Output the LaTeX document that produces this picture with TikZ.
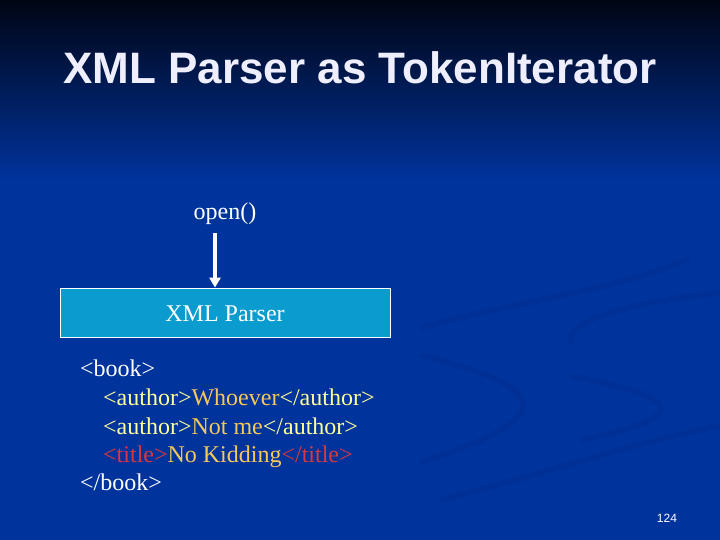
\documentclass[tikz,border=0pt]{standalone}
\usepackage{fontspec}
\setmainfont{Liberation Serif}
\setsansfont{Liberation Sans}
\usetikzlibrary{arrows.meta,positioning}
\definecolor{slidetop}{HTML}{000514}
\definecolor{slideblue}{HTML}{00339C}
\definecolor{swirl}{HTML}{022C86}
\definecolor{parsebox}{HTML}{0A9CCF}
\definecolor{tagyel}{HTML}{FFFF99}
\definecolor{txtgold}{HTML}{F5C85A}
\definecolor{tagred}{HTML}{D8383C}
\definecolor{titleink}{HTML}{EEEEFF}
\tikzset{
  ttl/.style={font=\sffamily\bfseries\fontsize{44}{50}\selectfont, text=titleink, inner sep=0pt},
  lbl/.style={font=\fontsize{24}{28}\selectfont, text=white, inner sep=0pt},
  code/.style={lbl, anchor=base west},
  prs/.style={draw=white, line width=0.8pt, fill=parsebox, minimum width=330pt, minimum height=49pt, inner sep=0pt},
  arr/.style={-{Triangle[length=10pt, width=11pt]}, line width=3.5pt, color=white},
  swl/.style={line width=6pt, color=swirl, opacity=0.3},
}
\begin{document}
\begin{tikzpicture}[x=1pt, y=-1pt]
    % background
    \fill[slideblue] (0,0) rectangle (720,540);
    \shade[top color=slidetop, bottom color=slideblue] (0,0) rectangle (720,180);
    \begin{scope}
      \clip (0,0) rectangle (720,540);
      \draw[swl] (420,328) .. controls (520,300) and (620,290) .. (690,258);
      \draw[swl] (572,344) .. controls (560,320) and (640,300) .. (730,292);
      \draw[swl] (420,355) .. controls (520,380) and (590,410) .. (420,462);
      \draw[swl] (570,376) .. controls (700,400) and (680,420) .. (580,440);
      \draw[swl] (440,500) .. controls (560,470) and (640,440) .. (730,424);
    \end{scope}
    \useasboundingbox (0,0) rectangle (720,540);
    % title
    \node[ttl] (title) at (360,68) {XML Parser as TokenIterator};
    % parser
    \node[prs] (parser) at (225,312.5) {};
    \node[lbl, anchor=base] (ptext) at (225,321) {XML Parser};
    \node[lbl, anchor=base] (open) at (225,219) {open()};
    \coordinate (atop) at (215,233);
    \draw[arr] (atop) -- (atop |- parser.north);
    % xml text
    \node[code] (b1) at (80,376) {<book>};
    \node[code] (a1) at (103,405) {\textcolor{tagyel}{<author>}\textcolor{txtgold}{Whoever}\textcolor{tagyel}{</author>}};
    \node[code] (a2) at (103,434) {\textcolor{tagyel}{<author>}\textcolor{txtgold}{Not me}\textcolor{tagyel}{</author>}};
    \node[code] (t1) at (103,462) {\textcolor{tagred}{<title>}\textcolor{txtgold}{No Kidding}\textcolor{tagred}{</title>}};
    \node[code] (b2) at (80,490) {</book>};
    % page number
    \node[font=\sffamily\fontsize{12}{14}\selectfont, text=white, inner sep=0pt] (pg) at (667,518) {124};
\end{tikzpicture}
\end{document}
